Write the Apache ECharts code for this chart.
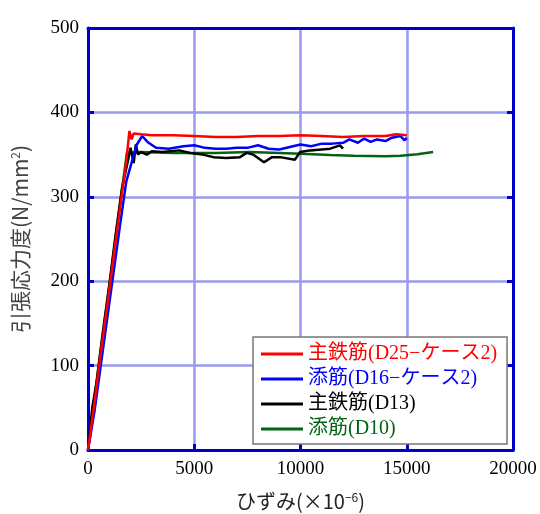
<!DOCTYPE html>
<html>
<head>
<meta charset="utf-8">
<script src="https://cdn.jsdelivr.net/npm/echarts@6/dist/echarts.min.js"></script>
<style>
  html, body { margin: 0; padding: 0; background: #fff; }
  #chart { width: 540px; height: 514px; }
</style>
</head>
<body>
<div id="chart"></div>
<script>
// 主鉄筋(D25-ケース2)
const redData = [[0,0],[300,55],[600,115],[900,170],[1200,228],[1500,285],[1800,342],[1950,378],[2050,368],[2150,375],
  [2500,374],[3000,373],[4000,373],[5000,372],[6000,371],[7000,371],[8000,372],[9000,372],[10000,373],
  [11000,372],[12000,371],[13000,372],[14000,372],[14500,374],[15000,373]];
// 添筋(D16-ケース2)
const blueData = [[0,0],[300,45],[600,100],[900,155],[1200,210],[1500,265],[1800,318],[2100,345],[2300,362],[2550,372],
  [2800,365],[3200,358],[3800,357],[4500,360],[5000,361],[5500,358],[6000,357],[6500,357],[7000,358],[7500,358],
  [8000,361],[8500,357],[9000,356],[9500,359],[10000,362],[10500,360],[11000,363],[11500,363],[12000,364],
  [12300,368],[12700,364],[13000,369],[13300,365],[13600,368],[14000,366],[14300,370],[14700,372],[14900,367],[15000,370]];
// 主鉄筋(D13)
const blackData = [[0,0],[200,50],[400,80],[700,140],[1000,195],[1300,255],[1600,310],[1900,345],[2000,358],[2150,340],
  [2250,362],[2350,350],[2500,353],[2770,350],[3000,354],[3500,353],[4300,355],[4800,352],[5400,350],[5900,347],
  [6500,346],[7150,347],[7470,352],[7770,350],[8280,341],[8660,347],[9040,347],[9740,344],[9980,353],
  [10450,355],[11400,357],[11860,361],[12000,357]];
// 添筋(D10)
const greenData = [[0,0],[300,60],[600,118],[900,175],[1200,232],[1500,290],[1830,352],[2500,353],[4000,352],
  [6000,352],[7600,353],[9000,352],[10000,351],[11400,349.5],[12500,348.5],[14000,348],[14700,348.5],[15500,350.5],[16240,353]];

const seriesNames = ['主鉄筋(D25−ケース2)', '添筋(D16−ケース2)', '主鉄筋(D13)', '添筋(D10)'];
const seriesColors = ['#ff0000', '#0000ff', '#000000', '#006414'];
const seriesData = [redData, blueData, blackData, greenData];

const xTicks = [0, 5000, 10000, 15000, 20000];
const yTicks = [0, 100, 200, 300, 400, 500];

const serif = '"Liberation Serif", "Noto Sans CJK JP", serif';
const sans = '"Noto Sans CJK JP", "Noto Sans", sans-serif';
const frameBlue = '#0000cc';

const chart = echarts.init(document.getElementById('chart'));

// frame axes: blue line + inward ticks
const frameAxis = (pos) => ({
  type: 'value',
  position: pos,
  axisLine: { show: true, onZero: false, lineStyle: { color: frameBlue, width: 3 } },
  axisTick: { show: true, inside: true, length: 6, lineStyle: { color: frameBlue, width: 3 } },
  splitLine: { show: false },
  axisLabel: { show: false }
});

chart.setOption({
  animation: false,
  grid: {
    left: 88, right: 27, top: 28, bottom: 64,
    containLabel: false,
    outerBoundsMode: 'none'
  },
  legend: {
    orient: 'vertical',
    left: 253,
    top: 337,
    padding: [7, 10, 5, 8],
    itemGap: 5,
    itemWidth: 42,
    itemHeight: 20,
    borderColor: '#777',
    borderWidth: 1.5,
    borderRadius: 0,
    backgroundColor: '#fff',
    icon: 'path://M0,9 L42,9 L42,12 L0,12 Z',
    textStyle: { fontFamily: serif, fontSize: 20 },
    data: seriesNames.map((n, i) => ({
      name: n,
      textStyle: { color: seriesColors[i], fontFamily: serif, fontSize: 20 }
    }))
  },
  xAxis: [{
    ...frameAxis('bottom'),
    min: xTicks[0],
    max: xTicks[xTicks.length - 1],
    interval: 5000,
    name: '{a|ひずみ(×10}{s|−6}{a|)}',
    nameLocation: 'middle',
    nameGap: 41,
    nameTextStyle: {
      rich: {
        a: { fontFamily: sans, fontSize: 20, color: '#222' },
        s: { fontFamily: sans, fontSize: 12, color: '#222', verticalAlign: 'top', padding: [0, 0, 9, 0] }
      }
    },
    axisLabel: { show: true, fontFamily: serif, fontSize: 19, color: '#000', margin: 10, formatter: v => String(v) },
    splitLine: { show: true, showMinLine: false, showMaxLine: false, lineStyle: { color: '#9a9aee', width: 2.5 } }
  }, {
    ...frameAxis('top'),
    min: xTicks[0],
    max: xTicks[xTicks.length - 1],
    interval: 5000,
    axisTick: { show: false }
  }],
  yAxis: [{
    ...frameAxis('left'),
    min: yTicks[0],
    max: yTicks[yTicks.length - 1],
    interval: 100,
    name: '{a|引張応力度(N/mm}{s|2}{a|)}',
    nameLocation: 'middle',
    nameGap: 57,
    nameRotate: 90,
    nameTextStyle: {
      rich: {
        a: { fontFamily: sans, fontSize: 21, color: '#444' },
        s: { fontFamily: sans, fontSize: 12, color: '#444', verticalAlign: 'top', padding: [0, 0, 10, 0] }
      }
    },
    axisLabel: { show: true, fontFamily: serif, fontSize: 19, color: '#000', margin: 9 },
    splitLine: { show: true, showMinLine: false, showMaxLine: false, lineStyle: { color: '#9a9aee', width: 2.5 } }
  }, {
    ...frameAxis('right'),
    min: yTicks[0],
    max: yTicks[yTicks.length - 1],
    interval: 100
  }],
  series: seriesNames.map((n, i) => ({
    name: n,
    type: 'line',
    data: seriesData[i],
    symbol: 'none',
    color: seriesColors[i],
    lineStyle: { color: seriesColors[i], width: 2.5 },
    z: 10 - i
  }))
});
</script>
</body>
</html>
